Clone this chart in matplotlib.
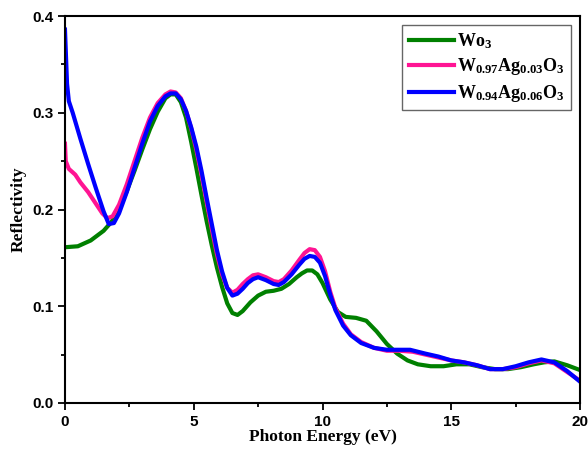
import matplotlib
matplotlib.use('Agg')
import matplotlib.pyplot as plt
from matplotlib.ticker import MultipleLocator, FormatStrFormatter

energia_wo3 = [0.0, 0.5, 1.0, 1.5, 1.8, 2.1, 2.4, 2.7, 3.0, 3.3, 3.6, 3.9, 4.1,
               4.3, 4.5, 4.7, 4.9, 5.1, 5.3, 5.5, 5.7, 5.9, 6.1, 6.3, 6.5, 6.7,
               6.9, 7.2, 7.5, 7.8, 8.1, 8.4, 8.7, 9.0, 9.2, 9.4, 9.6, 9.8, 10.0,
               10.3, 10.6, 10.9, 11.3, 11.7, 12.1, 12.5, 12.9, 13.3, 13.7, 14.2,
               14.7, 15.2, 15.7, 16.2, 16.7, 17.2, 17.7, 18.2, 18.6, 19.0, 19.5,
               20.0]
refl_wo3 = [0.161, 0.162, 0.168, 0.178, 0.187, 0.200, 0.219, 0.240, 0.262, 0.283,
            0.301, 0.315, 0.319, 0.319, 0.311, 0.295, 0.270, 0.243, 0.215, 0.188,
            0.163, 0.140, 0.120, 0.103, 0.093, 0.091, 0.095, 0.104, 0.111, 0.115,
            0.116, 0.118, 0.123, 0.130, 0.134, 0.137, 0.137, 0.133, 0.124, 0.107,
            0.094, 0.089, 0.088, 0.085, 0.074, 0.061, 0.051, 0.044, 0.040, 0.038,
            0.038, 0.040, 0.040, 0.037, 0.035, 0.035, 0.037, 0.040, 0.042, 0.043,
            0.039, 0.034]

energia_ag3 = [0.0, 0.03, 0.15, 0.4, 0.6, 0.9, 1.2, 1.45, 1.65, 1.85, 2.1, 2.4,
               2.7, 3.0, 3.3, 3.6, 3.9, 4.1, 4.3, 4.5, 4.7, 4.9, 5.1, 5.3, 5.5,
               5.7, 5.9, 6.1, 6.3, 6.5, 6.7, 6.9, 7.1, 7.3, 7.5, 7.8, 8.1, 8.3,
               8.5, 8.8, 9.1, 9.3, 9.5, 9.7, 9.9, 10.1, 10.3, 10.5, 10.8, 11.1,
               11.5, 12.0, 12.5, 13.0, 13.5, 14.0, 14.5, 15.0, 15.5, 16.0, 16.5,
               17.0, 17.5, 18.0, 18.5, 19.0, 19.5, 20.0]
refl_ag3 = [0.268, 0.250, 0.242, 0.236, 0.228, 0.218, 0.206, 0.196, 0.191, 0.193,
            0.205, 0.226, 0.250, 0.274, 0.295, 0.310, 0.319, 0.322, 0.321, 0.315,
            0.302, 0.284, 0.262, 0.236, 0.208, 0.180, 0.154, 0.133, 0.119, 0.114,
            0.117, 0.123, 0.128, 0.132, 0.133, 0.130, 0.126, 0.125, 0.128, 0.137,
            0.148, 0.155, 0.159, 0.158, 0.151, 0.136, 0.115, 0.098, 0.082, 0.071,
            0.063, 0.057, 0.054, 0.054, 0.053, 0.050, 0.047, 0.044, 0.042, 0.039,
            0.035, 0.035, 0.037, 0.041, 0.044, 0.041, 0.032, 0.023]

energia_ag6 = [0.0, 0.08, 0.15, 0.3, 0.6, 0.9, 1.2, 1.5, 1.7, 1.9, 2.1, 2.4, 2.7,
               3.0, 3.3, 3.6, 3.9, 4.1, 4.3, 4.5, 4.7, 4.9, 5.1, 5.3, 5.5, 5.7,
               5.9, 6.1, 6.3, 6.5, 6.7, 6.9, 7.1, 7.3, 7.5, 7.8, 8.1, 8.3, 8.5,
               8.8, 9.1, 9.3, 9.5, 9.7, 9.9, 10.1, 10.3, 10.5, 10.8, 11.1, 11.5,
               12.0, 12.5, 13.0, 13.4, 14.0, 14.5, 15.0, 15.5, 16.0, 16.5, 17.0,
               17.5, 18.0, 18.5, 19.0, 19.5, 20.0]
refl_ag6 = [0.386, 0.330, 0.312, 0.300, 0.273, 0.247, 0.222, 0.198, 0.185, 0.186,
            0.196, 0.218, 0.243, 0.268, 0.291, 0.307, 0.317, 0.320, 0.320, 0.314,
            0.302, 0.285, 0.265, 0.240, 0.212, 0.185, 0.158, 0.136, 0.119, 0.111,
            0.113, 0.118, 0.124, 0.128, 0.130, 0.127, 0.123, 0.122, 0.125, 0.133,
            0.143, 0.149, 0.152, 0.151, 0.145, 0.131, 0.112, 0.096, 0.080, 0.070,
            0.062, 0.057, 0.055, 0.055, 0.055, 0.051, 0.048, 0.044, 0.042, 0.039,
            0.035, 0.035, 0.038, 0.042, 0.045, 0.042, 0.033, 0.022]

etiquetas = [r'$\mathbf{Wo_3}$',
             r'$\mathbf{W_{0.97}Ag_{0.03}O_3}$',
             r'$\mathbf{W_{0.94}Ag_{0.06}O_3}$']
colores = ['#008000', '#ff1493', '#0000ff']

plt.rcParams['mathtext.fontset'] = 'custom'
plt.rcParams['mathtext.rm'] = 'Liberation Serif'
plt.rcParams['mathtext.bf'] = 'Liberation Serif:bold'

fig = plt.figure(figsize=(5.88, 4.55), dpi=100)
ax = fig.add_axes([0.1105, 0.1143, 0.876, 0.8505])

series = [(energia_wo3, refl_wo3), (energia_ag3, refl_ag3), (energia_ag6, refl_ag6)]
for (x, y), etiqueta, color in zip(series, etiquetas, colores):
    ax.plot(x, y, color=color, lw=3, label=etiqueta, solid_joinstyle='round')

ax.set_xlim(0, 20)
ax.set_ylim(0, 0.4)
ax.xaxis.set_major_locator(MultipleLocator(5))
ax.xaxis.set_minor_locator(MultipleLocator(2.5))
ax.yaxis.set_major_locator(MultipleLocator(0.1))
ax.yaxis.set_minor_locator(MultipleLocator(0.05))
ax.yaxis.set_major_formatter(FormatStrFormatter('%.1f'))
ax.tick_params(which='both', direction='out', top=False, right=False, width=1.3)
ax.tick_params(which='major', length=5)
ax.tick_params(which='minor', length=3)
for lbl in ax.get_xticklabels() + ax.get_yticklabels():
    lbl.set_family('Liberation Sans')
    lbl.set_fontweight('bold')
    lbl.set_fontsize(11)
for s in ax.spines.values():
    s.set_linewidth(1.5)

ax.set_xlabel('Photon Energy (eV)', family='Liberation Serif', fontweight='bold',
              fontsize=12.5, labelpad=0)
ax.set_ylabel('Reflectivity', family='Liberation Serif', fontweight='bold',
              fontsize=12.5, labelpad=4)

leg = ax.legend(loc='upper right', fontsize=13, fancybox=False, framealpha=1,
                edgecolor='#666666', handlelength=2.5, handletextpad=0.2,
                borderaxespad=0.5, labelspacing=0.3, borderpad=0.35)
leg.get_frame().set_linewidth(1.0)

fig.savefig('out.png', dpi=100)
